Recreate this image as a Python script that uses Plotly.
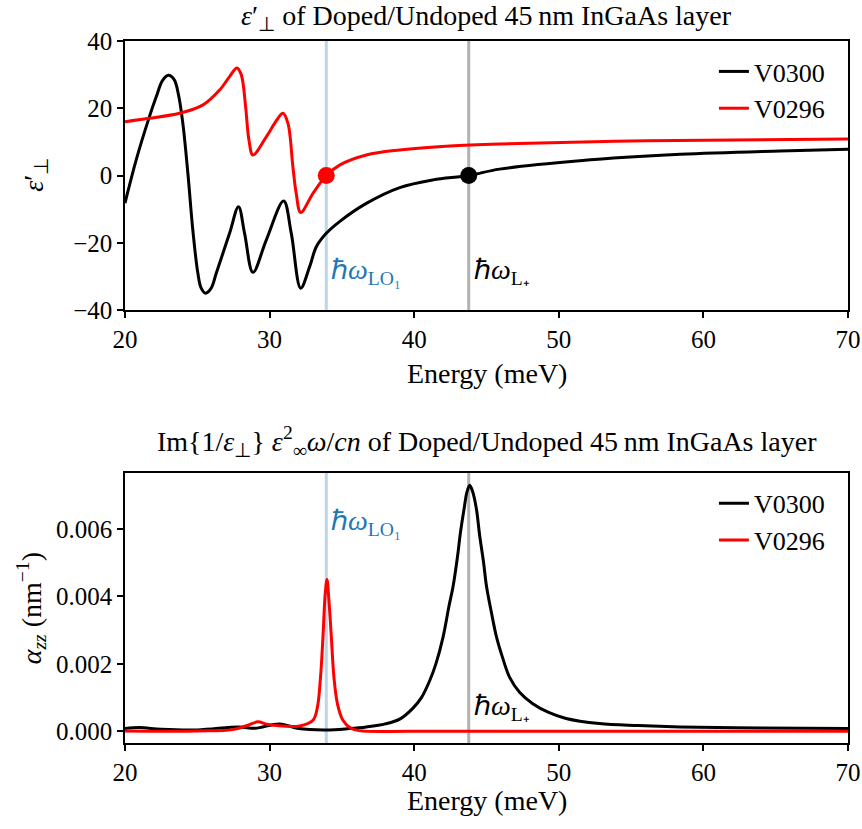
import plotly.graph_objects as go

# ---------------- data ----------------
# top panel: real part of eps_perp
E_top_V0300 = [20.0, 20.77, 21.65, 22.16, 22.6, 23.0, 23.4, 23.7, 24.0, 24.35, 24.69, 25.04,
               25.27, 25.57, 25.96, 26.31, 27.23, 27.85, 28.27, 28.85, 29.77, 30.97, 31.5,
               32.15, 32.77, 33.23, 33.92, 34.84, 36.69, 39.0, 41.3, 43.77, 45.9, 51.45,
               58.4, 65.3, 70.0]
eps_V0300 = [-8.2, 4.6, 17.0, 23.4, 28.3, 29.8, 28.5, 24.0, 15.5, 0.6, -16.2, -29.1,
             -33.5, -35.0, -33.5, -29.1, -17.2, -9.3, -17.2, -28.8, -19.2, -7.6, -17.2,
             -33.5, -27.1, -21.2, -17.2, -13.7, -8.3, -3.6, -1.3, 0.0, 1.9, 4.4,
             6.3, 7.3, 7.8]

E_top_V0296 = [20.0, 21.65, 23.77, 25.4, 26.54, 27.23, 27.74, 28.04, 28.34, 28.57, 28.85,
               29.77, 30.5, 30.92, 31.27, 31.61, 31.84, 32.15, 33.0, 33.92, 34.84, 36.69,
               39.0, 42.46, 45.9, 56.1, 70.0]
eps_V0296 = [16.0, 17.0, 18.5, 21.0, 25.4, 29.4, 32.0, 30.0, 20.5, 10.6, 6.1,
             11.5, 16.5, 18.5, 15.5, 2.6, -5.3, -11.0, -5.3, 0.0, 3.1, 6.1,
             7.6, 8.8, 9.4, 10.3, 10.85]

# bottom panel: absorption alpha_zz (nm^-1)
E_bot_V0300 = [20.0, 21.0, 22.5, 25.0, 27.9, 29.0, 30.7, 32.0, 33.9, 35.5, 36.7, 38.0,
               39.0, 39.9, 40.5, 41.07, 41.5, 42.0, 42.4, 42.69, 43.0, 43.2, 43.45, 43.65,
               43.84, 44.05, 44.3, 44.53, 44.8, 45.0, 45.35, 45.69, 46.1, 46.6, 47.3,
               48.2, 49.3, 50.5, 52.8, 55.5, 58.4, 64.0, 70.0]
alpha_V0300 = [0.00008, 0.00011, 0.00006, 0.00004, 0.00013, 0.00009, 0.00022, 0.00008,
               0.00004, 0.00008, 0.00013, 0.00022, 0.00036, 0.00068, 0.00100, 0.0015,
               0.0020, 0.0028, 0.0037, 0.0043, 0.0052, 0.0059, 0.0066, 0.0071,
               0.0073, 0.0071, 0.0066, 0.0058, 0.0050, 0.0043, 0.0035, 0.0028, 0.0022,
               0.0016, 0.00115, 0.00082, 0.00056, 0.00038, 0.00023, 0.00017, 0.00013,
               0.0001, 0.00008]

E_bot_V0296 = [20.0, 25.0, 27.46, 28.5, 29.19, 29.8, 30.46, 32.08, 33.0, 33.3, 33.52, 33.69,
               33.85, 33.97, 34.1, 34.27, 34.45, 34.7, 35.07, 35.6, 36.2, 40.0, 70.0]
alpha_V0296 = [0.00001, 0.00001, 0.00005, 0.00018, 0.00028, 0.00021, 0.00017, 0.00016,
               0.00033, 0.0007, 0.0016, 0.0028, 0.0041, 0.0045, 0.0039, 0.0028, 0.0016,
               0.0008, 0.00033, 0.0001, 0.00002, 0.0, 0.0]

E_LO1 = 33.92      # hbar omega_LO1 (meV)
E_Lplus = 43.77    # hbar omega_L+ (meV)

series_names = ["V0300", "V0296"]
series_colors = ["black", "red"]

x_ticks = [20, 30, 40, 50, 60, 70]
y_ticks_top = [-40, -20, 0, 20, 40]
y_ticks_bot = [0.0, 0.002, 0.004, 0.006]

FONT = "Liberation Serif"
TICK_SIZE = 25
LABEL_SIZE = 28

# ---------------- figure ----------------
fig = go.Figure()

LW = 3
SM = 1.0
fig.add_trace(go.Scatter(x=E_top_V0300, y=eps_V0300, mode="lines", name=series_names[0],
                         line=dict(color=series_colors[0], width=LW, shape="spline", smoothing=SM),
                         xaxis="x", yaxis="y", legend="legend", legendgroup="a"))
fig.add_trace(go.Scatter(x=E_top_V0296, y=eps_V0296, mode="lines", name=series_names[1],
                         line=dict(color=series_colors[1], width=LW, shape="spline", smoothing=SM),
                         xaxis="x", yaxis="y", legend="legend", legendgroup="b"))
fig.add_trace(go.Scatter(x=[E_LO1], y=[0], mode="markers", showlegend=False,
                         marker=dict(color="red", size=17), xaxis="x", yaxis="y"))
fig.add_trace(go.Scatter(x=[E_Lplus], y=[0], mode="markers", showlegend=False,
                         marker=dict(color="black", size=17), xaxis="x", yaxis="y"))

fig.add_trace(go.Scatter(x=E_bot_V0300, y=alpha_V0300, mode="lines", name=series_names[0],
                         line=dict(color=series_colors[0], width=LW, shape="spline", smoothing=SM),
                         xaxis="x2", yaxis="y2", legend="legend2", legendgroup="c"))
fig.add_trace(go.Scatter(x=E_bot_V0296, y=alpha_V0296, mode="lines", name=series_names[1],
                         line=dict(color=series_colors[1], width=LW, shape="spline", smoothing=SM),
                         xaxis="x2", yaxis="y2", legend="legend2", legendgroup="d"))

# vertical lines
for xr, yr in (("x", "y domain"), ("x2", "y2 domain")):
    fig.add_shape(type="line", xref=xr, yref=yr, x0=E_LO1, x1=E_LO1, y0=0, y1=1,
                  line=dict(color="rgba(31,119,180,0.3)", width=3), layer="below")
    fig.add_shape(type="line", xref=xr, yref=yr, x0=E_Lplus, x1=E_Lplus, y0=0, y1=1,
                  line=dict(color="rgba(0,0,0,0.3)", width=3), layer="below")

axis_common = dict(showline=True, mirror=True, linecolor="black", linewidth=1.5,
                   ticks="outside", ticklen=6, tickwidth=1.5, tickcolor="black",
                   showgrid=False, zeroline=False, automargin=False,
                   tickfont=dict(family=FONT, size=TICK_SIZE, color="black"))

top_dom = [0.6168, 1.0]
bot_dom = [0.0, 0.385]

fig.update_layout(
    width=862, height=829,
    margin=dict(l=125, r=14, t=41, b=86, autoexpand=False),
    paper_bgcolor="white", plot_bgcolor="white",
    font=dict(family=FONT, size=TICK_SIZE, color="black"),
    xaxis=dict(domain=[0, 1], anchor="y", range=[20, 70], tickvals=x_ticks, **axis_common),
    yaxis=dict(domain=top_dom, anchor="x", range=[-40, 40], tickvals=y_ticks_top, **axis_common),
    xaxis2=dict(domain=[0, 1], anchor="y2", range=[20, 70], tickvals=x_ticks, **axis_common),
    yaxis2=dict(domain=bot_dom, anchor="x2", range=[-0.000347, 0.00767], tickvals=y_ticks_bot,
                tickformat=".3f", **axis_common),
    legend=dict(x=0.975, y=0.99, xanchor="right", yanchor="top", bgcolor="rgba(0,0,0,0)",
                font=dict(family=FONT, size=26), traceorder="grouped", tracegroupgap=0),
    legend2=dict(x=0.975, y=0.375, xanchor="right", yanchor="top", bgcolor="rgba(0,0,0,0)",
                 font=dict(family=FONT, size=26), traceorder="grouped", tracegroupgap=0),
)

ann = []
# titles
ann.append(dict(text="<i>ε</i>′<sub>⊥</sub> of Doped/Undoped 45\u2009nm InGaAs layer",
                xref="paper", yref="paper", x=0.5, y=1.033, xanchor="center", yanchor="middle",
                showarrow=False, font=dict(family=FONT, size=LABEL_SIZE)))
ann.append(dict(text="Im{1/<i>ε</i><sub>⊥</sub>} <i>ε</i><sup>2</sup><sub>∞</sub><i>ω</i>/<i>cn</i> of Doped/Undoped 45\u2009nm InGaAs layer",
                xref="paper", yref="paper", x=0.5, y=0.4288, xanchor="center", yanchor="middle",
                showarrow=False, font=dict(family=FONT, size=LABEL_SIZE)))
# axis labels
ann.append(dict(text="Energy (meV)", xref="paper", yref="paper", x=0.5, y=0.527,
                xanchor="center", yanchor="middle", showarrow=False,
                font=dict(family=FONT, size=LABEL_SIZE)))
ann.append(dict(text="Energy (meV)", xref="paper", yref="paper", x=0.5, y=-0.0812,
                xanchor="center", yanchor="middle", showarrow=False,
                font=dict(family=FONT, size=LABEL_SIZE)))
ann.append(dict(text="<i>ε</i>′<sub>⊥</sub>", xref="paper", yref="paper", x=-0.125, y=0.809,
                xanchor="center", yanchor="middle", textangle=-90, showarrow=False,
                font=dict(family=FONT, size=LABEL_SIZE)))
ann.append(dict(text="<i>α<sub>zz</sub></i> (nm<sup>−1</sup>)", xref="paper", yref="paper",
                x=-0.13, y=0.192, xanchor="center", yanchor="middle", textangle=-90,
                showarrow=False, font=dict(family=FONT, size=LABEL_SIZE)))
# energy markers labels
lo_txt = "ℏ<i>ω</i><sub>LO₁</sub>"
lp_txt = "ℏ<i>ω</i><sub>L₊</sub>"
ann.append(dict(text=lo_txt, xref="x", yref="y", x=E_LO1 + 0.2, y=-28.4, xanchor="left",
                yanchor="middle", showarrow=False, font=dict(family=FONT, size=LABEL_SIZE, color="#1f77b4")))
ann.append(dict(text=lp_txt, xref="x", yref="y", x=E_Lplus + 0.2, y=-28.4, xanchor="left",
                yanchor="middle", showarrow=False, font=dict(family=FONT, size=LABEL_SIZE, color="black")))
ann.append(dict(text=lo_txt, xref="x2", yref="y2", x=E_LO1 + 0.2, y=0.0062, xanchor="left",
                yanchor="middle", showarrow=False, font=dict(family=FONT, size=LABEL_SIZE, color="#1f77b4")))
ann.append(dict(text=lp_txt, xref="x2", yref="y2", x=E_Lplus + 0.2, y=0.0007, xanchor="left",
                yanchor="middle", showarrow=False, font=dict(family=FONT, size=LABEL_SIZE, color="black")))
fig.update_layout(annotations=ann)

fig.write_html("out.html", config={"displayModeBar": False},
               post_script="document.body.style.margin='0';")
